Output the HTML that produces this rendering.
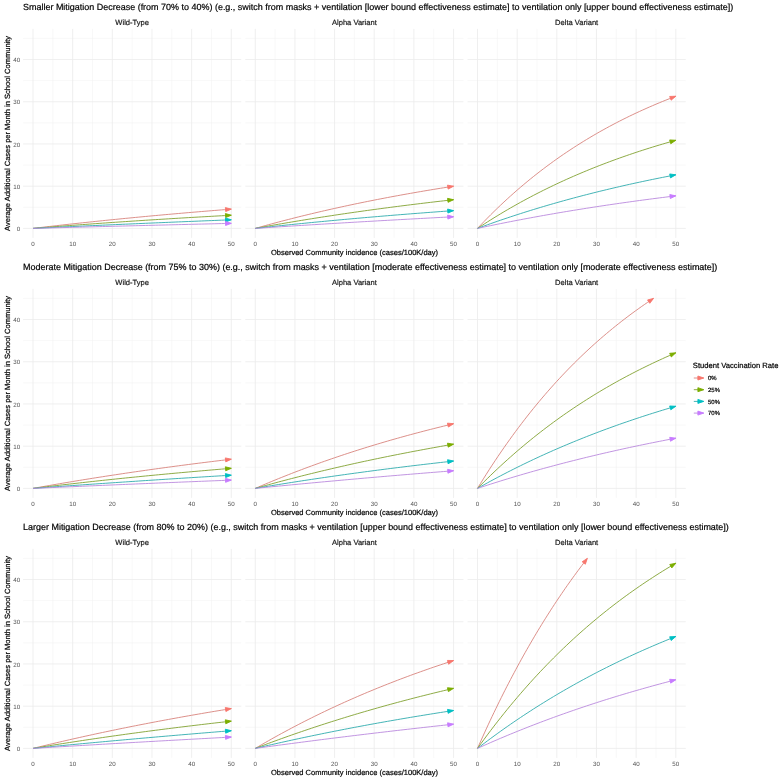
<!DOCTYPE html>
<html><head><meta charset="utf-8"><title>Mitigation chart</title>
<style>html,body{margin:0;padding:0;background:#fff;}svg{display:block;will-change:transform;filter:blur(0.3px);}text{font-family:"Liberation Sans",sans-serif;text-rendering:geometricPrecision;stroke:currentColor;stroke-width:0.2px;}</style>
</head><body>
<svg width="780" height="780" viewBox="0 0 780 780">
<rect width="780" height="780" fill="#fff"/>
<text x="23.0" y="10.45" font-size="8.97" fill="#000" color="#000">Smaller Mitigation Decrease (from 70% to 40%) (e.g., switch from masks + ventilation [lower bound effectiveness estimate] to ventilation only [upper bound effectiveness estimate])</text>
<text transform="translate(9.6,133.40) rotate(-90)" text-anchor="middle" font-size="7.52" fill="#000" color="#000">Average Additional Cases per Month in School Community</text>
<text x="354.5" y="254.50" text-anchor="middle" font-size="7.52" fill="#000" color="#000">Observed Community incidence (cases/100K/day)</text>
<text x="20.2" y="231.00" text-anchor="end" font-size="6.2" fill="#555555" style="stroke:none">0</text>
<text x="20.2" y="188.78" text-anchor="end" font-size="6.2" fill="#555555" style="stroke:none">10</text>
<text x="20.2" y="146.56" text-anchor="end" font-size="6.2" fill="#555555" style="stroke:none">20</text>
<text x="20.2" y="104.34" text-anchor="end" font-size="6.2" fill="#555555" style="stroke:none">30</text>
<text x="20.2" y="62.12" text-anchor="end" font-size="6.2" fill="#555555" style="stroke:none">40</text>
<text x="132.15" y="25.45" text-anchor="middle" font-size="7.55" fill="#1A1A1A" color="#1A1A1A">Wild-Type</text>
<path d="M52.83 28.91V237.90M92.49 28.91V237.90M132.15 28.91V237.90M171.81 28.91V237.90M211.47 28.91V237.90M23.09 207.29H241.22M23.09 165.07H241.22M23.09 122.85H241.22M23.09 80.63H241.22M23.09 38.41H241.22" stroke="#F3F3F3" stroke-width="0.55" fill="none"/>
<path d="M33.00 28.91V237.90M72.66 28.91V237.90M112.32 28.91V237.90M151.98 28.91V237.90M191.64 28.91V237.90M231.30 28.91V237.90M23.09 228.40H241.22M23.09 186.18H241.22M23.09 143.96H241.22M23.09 101.74H241.22M23.09 59.52H241.22" stroke="#EBEBEB" stroke-width="0.8" fill="none"/>
<text x="33.00" y="246.30" text-anchor="middle" font-size="6.2" fill="#555555" style="stroke:none">0</text>
<text x="72.66" y="246.30" text-anchor="middle" font-size="6.2" fill="#555555" style="stroke:none">10</text>
<text x="112.32" y="246.30" text-anchor="middle" font-size="6.2" fill="#555555" style="stroke:none">20</text>
<text x="151.98" y="246.30" text-anchor="middle" font-size="6.2" fill="#555555" style="stroke:none">30</text>
<text x="191.64" y="246.30" text-anchor="middle" font-size="6.2" fill="#555555" style="stroke:none">40</text>
<text x="231.30" y="246.30" text-anchor="middle" font-size="6.2" fill="#555555" style="stroke:none">50</text>
<path d="M33.00 228.40 L36.30 228.01 L39.61 227.62 L42.91 227.23 L46.22 226.85 L49.53 226.46 L52.83 226.08 L56.14 225.71 L59.44 225.33 L62.75 224.96 L66.05 224.59 L69.35 224.23 L72.66 223.87 L75.97 223.50 L79.27 223.15 L82.58 222.79 L85.88 222.44 L89.19 222.09 L92.49 221.74 L95.80 221.39 L99.10 221.05 L102.41 220.71 L105.71 220.37 L109.02 220.03 L112.32 219.70 L115.62 219.37 L118.93 219.04 L122.23 218.71 L125.54 218.39 L128.85 218.07 L132.15 217.75 L135.45 217.43 L138.76 217.11 L142.06 216.80 L145.37 216.49 L148.68 216.18 L151.98 215.88 L155.28 215.57 L158.59 215.27 L161.90 214.97 L165.20 214.67 L168.50 214.38 L171.81 214.08 L175.12 213.79 L178.42 213.50 L181.72 213.21 L185.03 212.93 L188.34 212.64 L191.64 212.36 L194.95 212.08 L198.25 211.81 L201.56 211.53 L204.86 211.26 L208.16 210.98 L211.47 210.72 L214.78 210.45 L218.08 210.18 L221.39 209.92 L224.69 209.66 L228.00 209.39 L231.30 209.14" stroke="#D8837D" stroke-width="0.9" fill="none"/>
<polygon points="231.30,209.14 225.67,211.58 225.36,207.59" fill="#F8766D" stroke="#F8766D" stroke-width="0.9" stroke-linejoin="miter"/>
<path d="M33.00 228.40 L36.30 228.13 L39.61 227.87 L42.91 227.61 L46.22 227.34 L49.53 227.09 L52.83 226.83 L56.14 226.57 L59.44 226.32 L62.75 226.06 L66.05 225.81 L69.35 225.57 L72.66 225.32 L75.97 225.07 L79.27 224.83 L82.58 224.59 L85.88 224.35 L89.19 224.11 L92.49 223.87 L95.80 223.63 L99.10 223.40 L102.41 223.17 L105.71 222.94 L109.02 222.71 L112.32 222.48 L115.62 222.25 L118.93 222.03 L122.23 221.80 L125.54 221.58 L128.85 221.36 L132.15 221.14 L135.45 220.93 L138.76 220.71 L142.06 220.50 L145.37 220.28 L148.68 220.07 L151.98 219.86 L155.28 219.65 L158.59 219.45 L161.90 219.24 L165.20 219.04 L168.50 218.83 L171.81 218.63 L175.12 218.43 L178.42 218.23 L181.72 218.03 L185.03 217.84 L188.34 217.64 L191.64 217.45 L194.95 217.26 L198.25 217.07 L201.56 216.88 L204.86 216.69 L208.16 216.50 L211.47 216.32 L214.78 216.13 L218.08 215.95 L221.39 215.77 L224.69 215.59 L228.00 215.41 L231.30 215.23" stroke="#81A231" stroke-width="0.9" fill="none"/>
<polygon points="231.30,215.23 225.62,217.54 225.40,213.54" fill="#7CAE00" stroke="#7CAE00" stroke-width="0.9" stroke-linejoin="miter"/>
<path d="M33.00 228.40 L36.30 228.24 L39.61 228.08 L42.91 227.93 L46.22 227.77 L49.53 227.62 L52.83 227.46 L56.14 227.30 L59.44 227.15 L62.75 227.00 L66.05 226.84 L69.35 226.69 L72.66 226.54 L75.97 226.39 L79.27 226.23 L82.58 226.08 L85.88 225.93 L89.19 225.78 L92.49 225.63 L95.80 225.49 L99.10 225.34 L102.41 225.19 L105.71 225.04 L109.02 224.90 L112.32 224.75 L115.62 224.60 L118.93 224.46 L122.23 224.31 L125.54 224.17 L128.85 224.02 L132.15 223.88 L135.45 223.74 L138.76 223.60 L142.06 223.45 L145.37 223.31 L148.68 223.17 L151.98 223.03 L155.28 222.89 L158.59 222.75 L161.90 222.61 L165.20 222.47 L168.50 222.33 L171.81 222.20 L175.12 222.06 L178.42 221.92 L181.72 221.79 L185.03 221.65 L188.34 221.51 L191.64 221.38 L194.95 221.24 L198.25 221.11 L201.56 220.98 L204.86 220.84 L208.16 220.71 L211.47 220.58 L214.78 220.45 L218.08 220.31 L221.39 220.18 L224.69 220.05 L228.00 219.92 L231.30 219.79" stroke="#2FABAE" stroke-width="0.9" fill="none"/>
<polygon points="231.30,219.79 225.58,222.02 225.43,218.02" fill="#00BFC4" stroke="#00BFC4" stroke-width="0.9" stroke-linejoin="miter"/>
<path d="M33.00 228.40 L36.30 228.31 L39.61 228.22 L42.91 228.13 L46.22 228.04 L49.53 227.96 L52.83 227.87 L56.14 227.78 L59.44 227.69 L62.75 227.60 L66.05 227.52 L69.35 227.43 L72.66 227.34 L75.97 227.25 L79.27 227.17 L82.58 227.08 L85.88 226.99 L89.19 226.91 L92.49 226.82 L95.80 226.73 L99.10 226.65 L102.41 226.56 L105.71 226.48 L109.02 226.39 L112.32 226.31 L115.62 226.22 L118.93 226.14 L122.23 226.05 L125.54 225.97 L128.85 225.88 L132.15 225.80 L135.45 225.71 L138.76 225.63 L142.06 225.55 L145.37 225.46 L148.68 225.38 L151.98 225.30 L155.28 225.21 L158.59 225.13 L161.90 225.05 L165.20 224.97 L168.50 224.88 L171.81 224.80 L175.12 224.72 L178.42 224.64 L181.72 224.55 L185.03 224.47 L188.34 224.39 L191.64 224.31 L194.95 224.23 L198.25 224.15 L201.56 224.07 L204.86 223.99 L208.16 223.91 L211.47 223.83 L214.78 223.75 L218.08 223.67 L221.39 223.59 L224.69 223.51 L228.00 223.43 L231.30 223.35" stroke="#BA89DE" stroke-width="0.9" fill="none"/>
<polygon points="231.30,223.35 225.55,225.49 225.45,221.49" fill="#C77CFF" stroke="#C77CFF" stroke-width="0.9" stroke-linejoin="miter"/>
<text x="354.40" y="25.45" text-anchor="middle" font-size="7.55" fill="#1A1A1A" color="#1A1A1A">Alpha Variant</text>
<path d="M275.08 28.91V237.90M314.74 28.91V237.90M354.40 28.91V237.90M394.06 28.91V237.90M433.72 28.91V237.90M245.34 207.29H463.47M245.34 165.07H463.47M245.34 122.85H463.47M245.34 80.63H463.47M245.34 38.41H463.47" stroke="#F3F3F3" stroke-width="0.55" fill="none"/>
<path d="M255.25 28.91V237.90M294.91 28.91V237.90M334.57 28.91V237.90M374.23 28.91V237.90M413.89 28.91V237.90M453.55 28.91V237.90M245.34 228.40H463.47M245.34 186.18H463.47M245.34 143.96H463.47M245.34 101.74H463.47M245.34 59.52H463.47" stroke="#EBEBEB" stroke-width="0.8" fill="none"/>
<text x="255.25" y="246.30" text-anchor="middle" font-size="6.2" fill="#555555" style="stroke:none">0</text>
<text x="294.91" y="246.30" text-anchor="middle" font-size="6.2" fill="#555555" style="stroke:none">10</text>
<text x="334.57" y="246.30" text-anchor="middle" font-size="6.2" fill="#555555" style="stroke:none">20</text>
<text x="374.23" y="246.30" text-anchor="middle" font-size="6.2" fill="#555555" style="stroke:none">30</text>
<text x="413.89" y="246.30" text-anchor="middle" font-size="6.2" fill="#555555" style="stroke:none">40</text>
<text x="453.55" y="246.30" text-anchor="middle" font-size="6.2" fill="#555555" style="stroke:none">50</text>
<path d="M255.25 228.40 L258.56 227.47 L261.86 226.55 L265.17 225.63 L268.47 224.73 L271.77 223.83 L275.08 222.95 L278.38 222.07 L281.69 221.20 L285.00 220.34 L288.30 219.49 L291.61 218.65 L294.91 217.81 L298.22 216.98 L301.52 216.17 L304.82 215.36 L308.13 214.56 L311.44 213.76 L314.74 212.98 L318.05 212.20 L321.35 211.43 L324.65 210.67 L327.96 209.91 L331.26 209.17 L334.57 208.43 L337.88 207.70 L341.18 206.97 L344.49 206.25 L347.79 205.54 L351.10 204.84 L354.40 204.14 L357.70 203.46 L361.01 202.77 L364.31 202.10 L367.62 201.43 L370.93 200.77 L374.23 200.11 L377.53 199.46 L380.84 198.82 L384.14 198.19 L387.45 197.56 L390.75 196.93 L394.06 196.32 L397.37 195.71 L400.67 195.10 L403.98 194.50 L407.28 193.91 L410.59 193.33 L413.89 192.75 L417.20 192.17 L420.50 191.60 L423.81 191.04 L427.11 190.48 L430.41 189.93 L433.72 189.38 L437.02 188.84 L440.33 188.31 L443.63 187.78 L446.94 187.25 L450.25 186.73 L453.55 186.22" stroke="#D8837D" stroke-width="0.9" fill="none"/>
<polygon points="453.55,186.22 448.13,189.08 447.51,185.13" fill="#F8766D" stroke="#F8766D" stroke-width="0.9" stroke-linejoin="miter"/>
<path d="M255.25 228.40 L258.56 227.80 L261.86 227.20 L265.17 226.60 L268.47 226.01 L271.77 225.43 L275.08 224.85 L278.38 224.27 L281.69 223.70 L285.00 223.13 L288.30 222.57 L291.61 222.02 L294.91 221.47 L298.22 220.92 L301.52 220.38 L304.82 219.84 L308.13 219.30 L311.44 218.77 L314.74 218.25 L318.05 217.73 L321.35 217.21 L324.65 216.70 L327.96 216.19 L331.26 215.69 L334.57 215.19 L337.88 214.69 L341.18 214.20 L344.49 213.71 L347.79 213.23 L351.10 212.75 L354.40 212.28 L357.70 211.81 L361.01 211.34 L364.31 210.87 L367.62 210.42 L370.93 209.96 L374.23 209.51 L377.53 209.06 L380.84 208.61 L384.14 208.17 L387.45 207.74 L390.75 207.30 L394.06 206.87 L397.37 206.45 L400.67 206.02 L403.98 205.60 L407.28 205.19 L410.59 204.77 L413.89 204.37 L417.20 203.96 L420.50 203.56 L423.81 203.16 L427.11 202.76 L430.41 202.37 L433.72 201.98 L437.02 201.59 L440.33 201.21 L443.63 200.83 L446.94 200.46 L450.25 200.08 L453.55 199.71" stroke="#81A231" stroke-width="0.9" fill="none"/>
<polygon points="453.55,199.71 448.01,202.34 447.56,198.37" fill="#7CAE00" stroke="#7CAE00" stroke-width="0.9" stroke-linejoin="miter"/>
<path d="M255.25 228.40 L258.56 228.04 L261.86 227.68 L265.17 227.32 L268.47 226.96 L271.77 226.61 L275.08 226.26 L278.38 225.91 L281.69 225.56 L285.00 225.22 L288.30 224.88 L291.61 224.54 L294.91 224.20 L298.22 223.87 L301.52 223.54 L304.82 223.21 L308.13 222.88 L311.44 222.56 L314.74 222.24 L318.05 221.92 L321.35 221.60 L324.65 221.29 L327.96 220.97 L331.26 220.66 L334.57 220.36 L337.88 220.05 L341.18 219.75 L344.49 219.44 L347.79 219.15 L351.10 218.85 L354.40 218.55 L357.70 218.26 L361.01 217.97 L364.31 217.68 L367.62 217.39 L370.93 217.11 L374.23 216.83 L377.53 216.55 L380.84 216.27 L384.14 215.99 L387.45 215.72 L390.75 215.45 L394.06 215.17 L397.37 214.91 L400.67 214.64 L403.98 214.38 L407.28 214.11 L410.59 213.85 L413.89 213.59 L417.20 213.34 L420.50 213.08 L423.81 212.83 L427.11 212.57 L430.41 212.33 L433.72 212.08 L437.02 211.83 L440.33 211.59 L443.63 211.34 L446.94 211.10 L450.25 210.86 L453.55 210.63" stroke="#2FABAE" stroke-width="0.9" fill="none"/>
<polygon points="453.55,210.63 447.91,213.04 447.62,209.05" fill="#00BFC4" stroke="#00BFC4" stroke-width="0.9" stroke-linejoin="miter"/>
<path d="M255.25 228.40 L258.56 228.18 L261.86 227.97 L265.17 227.75 L268.47 227.53 L271.77 227.32 L275.08 227.11 L278.38 226.89 L281.69 226.68 L285.00 226.47 L288.30 226.26 L291.61 226.05 L294.91 225.84 L298.22 225.63 L301.52 225.43 L304.82 225.22 L308.13 225.02 L311.44 224.81 L314.74 224.61 L318.05 224.41 L321.35 224.20 L324.65 224.00 L327.96 223.80 L331.26 223.60 L334.57 223.40 L337.88 223.21 L341.18 223.01 L344.49 222.81 L347.79 222.62 L351.10 222.42 L354.40 222.23 L357.70 222.04 L361.01 221.84 L364.31 221.65 L367.62 221.46 L370.93 221.27 L374.23 221.08 L377.53 220.89 L380.84 220.70 L384.14 220.52 L387.45 220.33 L390.75 220.15 L394.06 219.96 L397.37 219.78 L400.67 219.59 L403.98 219.41 L407.28 219.23 L410.59 219.05 L413.89 218.87 L417.20 218.69 L420.50 218.51 L423.81 218.33 L427.11 218.15 L430.41 217.97 L433.72 217.80 L437.02 217.62 L440.33 217.45 L443.63 217.27 L446.94 217.10 L450.25 216.93 L453.55 216.76" stroke="#BA89DE" stroke-width="0.9" fill="none"/>
<polygon points="453.55,216.76 447.86,219.05 447.65,215.06" fill="#C77CFF" stroke="#C77CFF" stroke-width="0.9" stroke-linejoin="miter"/>
<text x="576.65" y="25.45" text-anchor="middle" font-size="7.55" fill="#1A1A1A" color="#1A1A1A">Delta Variant</text>
<path d="M497.33 28.91V237.90M536.99 28.91V237.90M576.65 28.91V237.90M616.31 28.91V237.90M655.97 28.91V237.90M467.58 207.29H685.72M467.58 165.07H685.72M467.58 122.85H685.72M467.58 80.63H685.72M467.58 38.41H685.72" stroke="#F3F3F3" stroke-width="0.55" fill="none"/>
<path d="M477.50 28.91V237.90M517.16 28.91V237.90M556.82 28.91V237.90M596.48 28.91V237.90M636.14 28.91V237.90M675.80 28.91V237.90M467.58 228.40H685.72M467.58 186.18H685.72M467.58 143.96H685.72M467.58 101.74H685.72M467.58 59.52H685.72" stroke="#EBEBEB" stroke-width="0.8" fill="none"/>
<text x="477.50" y="246.30" text-anchor="middle" font-size="6.2" fill="#555555" style="stroke:none">0</text>
<text x="517.16" y="246.30" text-anchor="middle" font-size="6.2" fill="#555555" style="stroke:none">10</text>
<text x="556.82" y="246.30" text-anchor="middle" font-size="6.2" fill="#555555" style="stroke:none">20</text>
<text x="596.48" y="246.30" text-anchor="middle" font-size="6.2" fill="#555555" style="stroke:none">30</text>
<text x="636.14" y="246.30" text-anchor="middle" font-size="6.2" fill="#555555" style="stroke:none">40</text>
<text x="675.80" y="246.30" text-anchor="middle" font-size="6.2" fill="#555555" style="stroke:none">50</text>
<path d="M477.50 228.40 L480.81 224.90 L484.11 221.46 L487.42 218.08 L490.72 214.76 L494.02 211.49 L497.33 208.28 L500.63 205.13 L503.94 202.02 L507.25 198.97 L510.55 195.98 L513.86 193.03 L517.16 190.13 L520.47 187.29 L523.77 184.49 L527.08 181.74 L530.38 179.03 L533.68 176.37 L536.99 173.76 L540.29 171.19 L543.60 168.67 L546.90 166.19 L550.21 163.75 L553.51 161.35 L556.82 158.99 L560.12 156.67 L563.43 154.40 L566.74 152.16 L570.04 149.96 L573.35 147.79 L576.65 145.67 L579.96 143.58 L583.26 141.52 L586.57 139.50 L589.87 137.52 L593.17 135.57 L596.48 133.65 L599.78 131.76 L603.09 129.91 L606.39 128.09 L609.70 126.30 L613.00 124.54 L616.31 122.81 L619.62 121.10 L622.92 119.43 L626.23 117.79 L629.53 116.17 L632.84 114.58 L636.14 113.02 L639.45 111.49 L642.75 109.98 L646.06 108.50 L649.36 107.04 L652.66 105.61 L655.97 104.20 L659.27 102.82 L662.58 101.45 L665.88 100.12 L669.19 98.80 L672.50 97.51 L675.80 96.24" stroke="#D8837D" stroke-width="0.9" fill="none"/>
<polygon points="675.80,96.24 671.10,100.19 669.67,96.45" fill="#F8766D" stroke="#F8766D" stroke-width="0.9" stroke-linejoin="miter"/>
<path d="M477.50 228.40 L480.81 226.22 L484.11 224.07 L487.42 221.95 L490.72 219.86 L494.02 217.80 L497.33 215.77 L500.63 213.77 L503.94 211.79 L507.25 209.85 L510.55 207.93 L513.86 206.05 L517.16 204.19 L520.47 202.35 L523.77 200.54 L527.08 198.76 L530.38 197.01 L533.68 195.27 L536.99 193.57 L540.29 191.89 L543.60 190.23 L546.90 188.60 L550.21 186.99 L553.51 185.40 L556.82 183.84 L560.12 182.29 L563.43 180.78 L566.74 179.28 L570.04 177.80 L573.35 176.35 L576.65 174.91 L579.96 173.50 L583.26 172.11 L586.57 170.74 L589.87 169.38 L593.17 168.05 L596.48 166.73 L599.78 165.44 L603.09 164.16 L606.39 162.90 L609.70 161.66 L613.00 160.44 L616.31 159.24 L619.62 158.05 L622.92 156.88 L626.23 155.72 L629.53 154.59 L632.84 153.47 L636.14 152.36 L639.45 151.27 L642.75 150.20 L646.06 149.14 L649.36 148.10 L652.66 147.07 L655.97 146.06 L659.27 145.06 L662.58 144.08 L665.88 143.11 L669.19 142.15 L672.50 141.21 L675.80 140.28" stroke="#81A231" stroke-width="0.9" fill="none"/>
<polygon points="675.80,140.28 670.76,143.78 669.68,139.93" fill="#7CAE00" stroke="#7CAE00" stroke-width="0.9" stroke-linejoin="miter"/>
<path d="M477.50 228.40 L480.81 227.19 L484.11 225.98 L487.42 224.80 L490.72 223.62 L494.02 222.46 L497.33 221.31 L500.63 220.18 L503.94 219.05 L507.25 217.94 L510.55 216.84 L513.86 215.75 L517.16 214.68 L520.47 213.61 L523.77 212.56 L527.08 211.52 L530.38 210.49 L533.68 209.47 L536.99 208.47 L540.29 207.47 L543.60 206.49 L546.90 205.51 L550.21 204.55 L553.51 203.60 L556.82 202.66 L560.12 201.72 L563.43 200.80 L566.74 199.89 L570.04 198.99 L573.35 198.10 L576.65 197.22 L579.96 196.34 L583.26 195.48 L586.57 194.63 L589.87 193.79 L593.17 192.95 L596.48 192.13 L599.78 191.31 L603.09 190.50 L606.39 189.70 L609.70 188.91 L613.00 188.13 L616.31 187.36 L619.62 186.60 L622.92 185.84 L626.23 185.09 L629.53 184.35 L632.84 183.62 L636.14 182.90 L639.45 182.19 L642.75 181.48 L646.06 180.78 L649.36 180.09 L652.66 179.40 L655.97 178.73 L659.27 178.06 L662.58 177.40 L665.88 176.74 L669.19 176.09 L672.50 175.45 L675.80 174.82" stroke="#2FABAE" stroke-width="0.9" fill="none"/>
<polygon points="675.80,174.82 670.48,177.88 669.73,173.95" fill="#00BFC4" stroke="#00BFC4" stroke-width="0.9" stroke-linejoin="miter"/>
<path d="M477.50 228.40 L480.81 227.69 L484.11 226.99 L487.42 226.30 L490.72 225.61 L494.02 224.93 L497.33 224.26 L500.63 223.59 L503.94 222.93 L507.25 222.28 L510.55 221.63 L513.86 220.98 L517.16 220.35 L520.47 219.72 L523.77 219.09 L527.08 218.47 L530.38 217.86 L533.68 217.25 L536.99 216.65 L540.29 216.05 L543.60 215.46 L546.90 214.88 L550.21 214.30 L553.51 213.72 L556.82 213.15 L560.12 212.59 L563.43 212.03 L566.74 211.48 L570.04 210.93 L573.35 210.39 L576.65 209.85 L579.96 209.32 L583.26 208.79 L586.57 208.26 L589.87 207.75 L593.17 207.23 L596.48 206.72 L599.78 206.22 L603.09 205.72 L606.39 205.23 L609.70 204.74 L613.00 204.25 L616.31 203.77 L619.62 203.30 L622.92 202.83 L626.23 202.36 L629.53 201.90 L632.84 201.44 L636.14 200.98 L639.45 200.53 L642.75 200.09 L646.06 199.65 L649.36 199.21 L652.66 198.77 L655.97 198.35 L659.27 197.92 L662.58 197.50 L665.88 197.08 L669.19 196.67 L672.50 196.26 L675.80 195.85" stroke="#BA89DE" stroke-width="0.9" fill="none"/>
<polygon points="675.80,195.85 670.29,198.54 669.80,194.57" fill="#C77CFF" stroke="#C77CFF" stroke-width="0.9" stroke-linejoin="miter"/>
<text x="23.0" y="270.20" font-size="8.97" fill="#000" color="#000">Moderate Mitigation Decrease (from 75% to 30%) (e.g., switch from masks + ventilation [moderate effectiveness estimate] to ventilation only [moderate effectiveness estimate])</text>
<text transform="translate(9.6,393.40) rotate(-90)" text-anchor="middle" font-size="7.52" fill="#000" color="#000">Average Additional Cases per Month in School Community</text>
<text x="354.5" y="514.50" text-anchor="middle" font-size="7.52" fill="#000" color="#000">Observed Community incidence (cases/100K/day)</text>
<text x="20.2" y="491.00" text-anchor="end" font-size="6.2" fill="#555555" style="stroke:none">0</text>
<text x="20.2" y="448.78" text-anchor="end" font-size="6.2" fill="#555555" style="stroke:none">10</text>
<text x="20.2" y="406.56" text-anchor="end" font-size="6.2" fill="#555555" style="stroke:none">20</text>
<text x="20.2" y="364.34" text-anchor="end" font-size="6.2" fill="#555555" style="stroke:none">30</text>
<text x="20.2" y="322.12" text-anchor="end" font-size="6.2" fill="#555555" style="stroke:none">40</text>
<text x="132.15" y="285.45" text-anchor="middle" font-size="7.55" fill="#1A1A1A" color="#1A1A1A">Wild-Type</text>
<path d="M52.83 288.91V497.90M92.49 288.91V497.90M132.15 288.91V497.90M171.81 288.91V497.90M211.47 288.91V497.90M23.09 467.29H241.22M23.09 425.07H241.22M23.09 382.85H241.22M23.09 340.63H241.22M23.09 298.41H241.22" stroke="#F3F3F3" stroke-width="0.55" fill="none"/>
<path d="M33.00 288.91V497.90M72.66 288.91V497.90M112.32 288.91V497.90M151.98 288.91V497.90M191.64 288.91V497.90M231.30 288.91V497.90M23.09 488.40H241.22M23.09 446.18H241.22M23.09 403.96H241.22M23.09 361.74H241.22M23.09 319.52H241.22" stroke="#EBEBEB" stroke-width="0.8" fill="none"/>
<text x="33.00" y="506.30" text-anchor="middle" font-size="6.2" fill="#555555" style="stroke:none">0</text>
<text x="72.66" y="506.30" text-anchor="middle" font-size="6.2" fill="#555555" style="stroke:none">10</text>
<text x="112.32" y="506.30" text-anchor="middle" font-size="6.2" fill="#555555" style="stroke:none">20</text>
<text x="151.98" y="506.30" text-anchor="middle" font-size="6.2" fill="#555555" style="stroke:none">30</text>
<text x="191.64" y="506.30" text-anchor="middle" font-size="6.2" fill="#555555" style="stroke:none">40</text>
<text x="231.30" y="506.30" text-anchor="middle" font-size="6.2" fill="#555555" style="stroke:none">50</text>
<path d="M33.00 488.40 L36.30 487.80 L39.61 487.21 L42.91 486.63 L46.22 486.04 L49.53 485.47 L52.83 484.89 L56.14 484.32 L59.44 483.75 L62.75 483.19 L66.05 482.63 L69.35 482.08 L72.66 481.53 L75.97 480.98 L79.27 480.44 L82.58 479.90 L85.88 479.37 L89.19 478.83 L92.49 478.31 L95.80 477.78 L99.10 477.26 L102.41 476.75 L105.71 476.23 L109.02 475.72 L112.32 475.22 L115.62 474.72 L118.93 474.22 L122.23 473.72 L125.54 473.23 L128.85 472.74 L132.15 472.26 L135.45 471.78 L138.76 471.30 L142.06 470.83 L145.37 470.36 L148.68 469.89 L151.98 469.42 L155.28 468.96 L158.59 468.51 L161.90 468.05 L165.20 467.60 L168.50 467.15 L171.81 466.71 L175.12 466.26 L178.42 465.83 L181.72 465.39 L185.03 464.96 L188.34 464.53 L191.64 464.10 L194.95 463.68 L198.25 463.26 L201.56 462.84 L204.86 462.43 L208.16 462.01 L211.47 461.61 L214.78 461.20 L218.08 460.80 L221.39 460.40 L224.69 460.00 L228.00 459.61 L231.30 459.21" stroke="#D8837D" stroke-width="0.9" fill="none"/>
<polygon points="231.30,459.21 225.78,461.88 225.30,457.91" fill="#F8766D" stroke="#F8766D" stroke-width="0.9" stroke-linejoin="miter"/>
<path d="M33.00 488.40 L36.30 487.99 L39.61 487.59 L42.91 487.19 L46.22 486.79 L49.53 486.40 L52.83 486.00 L56.14 485.61 L59.44 485.23 L62.75 484.84 L66.05 484.46 L69.35 484.08 L72.66 483.70 L75.97 483.33 L79.27 482.96 L82.58 482.59 L85.88 482.22 L89.19 481.85 L92.49 481.49 L95.80 481.13 L99.10 480.78 L102.41 480.42 L105.71 480.07 L109.02 479.72 L112.32 479.37 L115.62 479.03 L118.93 478.68 L122.23 478.34 L125.54 478.01 L128.85 477.67 L132.15 477.34 L135.45 477.01 L138.76 476.68 L142.06 476.35 L145.37 476.03 L148.68 475.70 L151.98 475.38 L155.28 475.07 L158.59 474.75 L161.90 474.44 L165.20 474.13 L168.50 473.82 L171.81 473.51 L175.12 473.20 L178.42 472.90 L181.72 472.60 L185.03 472.30 L188.34 472.00 L191.64 471.71 L194.95 471.42 L198.25 471.13 L201.56 470.84 L204.86 470.55 L208.16 470.26 L211.47 469.98 L214.78 469.70 L218.08 469.42 L221.39 469.14 L224.69 468.87 L228.00 468.59 L231.30 468.32" stroke="#81A231" stroke-width="0.9" fill="none"/>
<polygon points="231.30,468.32 225.68,470.79 225.36,466.80" fill="#7CAE00" stroke="#7CAE00" stroke-width="0.9" stroke-linejoin="miter"/>
<path d="M33.00 488.40 L36.30 488.16 L39.61 487.92 L42.91 487.67 L46.22 487.43 L49.53 487.20 L52.83 486.96 L56.14 486.72 L59.44 486.48 L62.75 486.25 L66.05 486.01 L69.35 485.78 L72.66 485.54 L75.97 485.31 L79.27 485.08 L82.58 484.85 L85.88 484.62 L89.19 484.39 L92.49 484.16 L95.80 483.93 L99.10 483.70 L102.41 483.47 L105.71 483.25 L109.02 483.02 L112.32 482.80 L115.62 482.57 L118.93 482.35 L122.23 482.13 L125.54 481.91 L128.85 481.69 L132.15 481.47 L135.45 481.25 L138.76 481.03 L142.06 480.81 L145.37 480.59 L148.68 480.38 L151.98 480.16 L155.28 479.94 L158.59 479.73 L161.90 479.52 L165.20 479.30 L168.50 479.09 L171.81 478.88 L175.12 478.67 L178.42 478.46 L181.72 478.25 L185.03 478.04 L188.34 477.83 L191.64 477.63 L194.95 477.42 L198.25 477.21 L201.56 477.01 L204.86 476.80 L208.16 476.60 L211.47 476.40 L214.78 476.19 L218.08 475.99 L221.39 475.79 L224.69 475.59 L228.00 475.39 L231.30 475.19" stroke="#2FABAE" stroke-width="0.9" fill="none"/>
<polygon points="231.30,475.19 225.63,477.54 225.39,473.54" fill="#00BFC4" stroke="#00BFC4" stroke-width="0.9" stroke-linejoin="miter"/>
<path d="M33.00 488.40 L36.30 488.25 L39.61 488.11 L42.91 487.96 L46.22 487.82 L49.53 487.67 L52.83 487.53 L56.14 487.38 L59.44 487.24 L62.75 487.09 L66.05 486.95 L69.35 486.80 L72.66 486.66 L75.97 486.52 L79.27 486.38 L82.58 486.23 L85.88 486.09 L89.19 485.95 L92.49 485.81 L95.80 485.67 L99.10 485.52 L102.41 485.38 L105.71 485.24 L109.02 485.10 L112.32 484.96 L115.62 484.82 L118.93 484.68 L122.23 484.55 L125.54 484.41 L128.85 484.27 L132.15 484.13 L135.45 483.99 L138.76 483.85 L142.06 483.72 L145.37 483.58 L148.68 483.44 L151.98 483.31 L155.28 483.17 L158.59 483.03 L161.90 482.90 L165.20 482.76 L168.50 482.63 L171.81 482.49 L175.12 482.36 L178.42 482.22 L181.72 482.09 L185.03 481.95 L188.34 481.82 L191.64 481.69 L194.95 481.55 L198.25 481.42 L201.56 481.29 L204.86 481.16 L208.16 481.02 L211.47 480.89 L214.78 480.76 L218.08 480.63 L221.39 480.50 L224.69 480.37 L228.00 480.24 L231.30 480.11" stroke="#BA89DE" stroke-width="0.9" fill="none"/>
<polygon points="231.30,480.11 225.58,482.33 225.43,478.34" fill="#C77CFF" stroke="#C77CFF" stroke-width="0.9" stroke-linejoin="miter"/>
<text x="354.40" y="285.45" text-anchor="middle" font-size="7.55" fill="#1A1A1A" color="#1A1A1A">Alpha Variant</text>
<path d="M275.08 288.91V497.90M314.74 288.91V497.90M354.40 288.91V497.90M394.06 288.91V497.90M433.72 288.91V497.90M245.34 467.29H463.47M245.34 425.07H463.47M245.34 382.85H463.47M245.34 340.63H463.47M245.34 298.41H463.47" stroke="#F3F3F3" stroke-width="0.55" fill="none"/>
<path d="M255.25 288.91V497.90M294.91 288.91V497.90M334.57 288.91V497.90M374.23 288.91V497.90M413.89 288.91V497.90M453.55 288.91V497.90M245.34 488.40H463.47M245.34 446.18H463.47M245.34 403.96H463.47M245.34 361.74H463.47M245.34 319.52H463.47" stroke="#EBEBEB" stroke-width="0.8" fill="none"/>
<text x="255.25" y="506.30" text-anchor="middle" font-size="6.2" fill="#555555" style="stroke:none">0</text>
<text x="294.91" y="506.30" text-anchor="middle" font-size="6.2" fill="#555555" style="stroke:none">10</text>
<text x="334.57" y="506.30" text-anchor="middle" font-size="6.2" fill="#555555" style="stroke:none">20</text>
<text x="374.23" y="506.30" text-anchor="middle" font-size="6.2" fill="#555555" style="stroke:none">30</text>
<text x="413.89" y="506.30" text-anchor="middle" font-size="6.2" fill="#555555" style="stroke:none">40</text>
<text x="453.55" y="506.30" text-anchor="middle" font-size="6.2" fill="#555555" style="stroke:none">50</text>
<path d="M255.25 488.40 L258.56 486.97 L261.86 485.56 L265.17 484.16 L268.47 482.77 L271.77 481.40 L275.08 480.04 L278.38 478.69 L281.69 477.36 L285.00 476.05 L288.30 474.74 L291.61 473.45 L294.91 472.17 L298.22 470.90 L301.52 469.65 L304.82 468.41 L308.13 467.18 L311.44 465.97 L314.74 464.76 L318.05 463.57 L321.35 462.39 L324.65 461.22 L327.96 460.07 L331.26 458.92 L334.57 457.79 L337.88 456.67 L341.18 455.56 L344.49 454.46 L347.79 453.37 L351.10 452.29 L354.40 451.22 L357.70 450.17 L361.01 449.12 L364.31 448.09 L367.62 447.06 L370.93 446.05 L374.23 445.04 L377.53 444.05 L380.84 443.07 L384.14 442.09 L387.45 441.13 L390.75 440.17 L394.06 439.23 L397.37 438.29 L400.67 437.36 L403.98 436.45 L407.28 435.54 L410.59 434.64 L413.89 433.75 L417.20 432.87 L420.50 432.00 L423.81 431.13 L427.11 430.28 L430.41 429.43 L433.72 428.60 L437.02 427.77 L440.33 426.95 L443.63 426.13 L446.94 425.33 L450.25 424.53 L453.55 423.74" stroke="#D8837D" stroke-width="0.9" fill="none"/>
<polygon points="453.55,423.74 448.37,427.04 447.44,423.14" fill="#F8766D" stroke="#F8766D" stroke-width="0.9" stroke-linejoin="miter"/>
<path d="M255.25 488.40 L258.56 487.47 L261.86 486.54 L265.17 485.63 L268.47 484.72 L271.77 483.81 L275.08 482.92 L278.38 482.03 L281.69 481.15 L285.00 480.28 L288.30 479.42 L291.61 478.56 L294.91 477.71 L298.22 476.86 L301.52 476.03 L304.82 475.20 L308.13 474.37 L311.44 473.56 L314.74 472.75 L318.05 471.95 L321.35 471.15 L324.65 470.36 L327.96 469.58 L331.26 468.80 L334.57 468.03 L337.88 467.27 L341.18 466.51 L344.49 465.76 L347.79 465.01 L351.10 464.27 L354.40 463.54 L357.70 462.81 L361.01 462.09 L364.31 461.38 L367.62 460.67 L370.93 459.97 L374.23 459.27 L377.53 458.58 L380.84 457.89 L384.14 457.21 L387.45 456.54 L390.75 455.87 L394.06 455.21 L397.37 454.55 L400.67 453.90 L403.98 453.25 L407.28 452.61 L410.59 451.97 L413.89 451.34 L417.20 450.72 L420.50 450.10 L423.81 449.48 L427.11 448.87 L430.41 448.27 L433.72 447.67 L437.02 447.07 L440.33 446.48 L443.63 445.89 L446.94 445.31 L450.25 444.74 L453.55 444.17" stroke="#81A231" stroke-width="0.9" fill="none"/>
<polygon points="453.55,444.17 448.18,447.13 447.49,443.18" fill="#7CAE00" stroke="#7CAE00" stroke-width="0.9" stroke-linejoin="miter"/>
<path d="M255.25 488.40 L258.56 487.84 L261.86 487.28 L265.17 486.73 L268.47 486.19 L271.77 485.64 L275.08 485.10 L278.38 484.57 L281.69 484.04 L285.00 483.51 L288.30 482.98 L291.61 482.46 L294.91 481.95 L298.22 481.43 L301.52 480.92 L304.82 480.42 L308.13 479.92 L311.44 479.42 L314.74 478.92 L318.05 478.43 L321.35 477.94 L324.65 477.46 L327.96 476.98 L331.26 476.50 L334.57 476.03 L337.88 475.56 L341.18 475.09 L344.49 474.63 L347.79 474.17 L351.10 473.71 L354.40 473.26 L357.70 472.80 L361.01 472.36 L364.31 471.91 L367.62 471.47 L370.93 471.04 L374.23 470.60 L377.53 470.17 L380.84 469.74 L384.14 469.32 L387.45 468.89 L390.75 468.47 L394.06 468.06 L397.37 467.65 L400.67 467.24 L403.98 466.83 L407.28 466.42 L410.59 466.02 L413.89 465.62 L417.20 465.23 L420.50 464.84 L423.81 464.45 L427.11 464.06 L430.41 463.68 L433.72 463.29 L437.02 462.92 L440.33 462.54 L443.63 462.17 L446.94 461.80 L450.25 461.43 L453.55 461.06" stroke="#2FABAE" stroke-width="0.9" fill="none"/>
<polygon points="453.55,461.06 448.00,463.69 447.57,459.71" fill="#00BFC4" stroke="#00BFC4" stroke-width="0.9" stroke-linejoin="miter"/>
<path d="M255.25 488.40 L258.56 488.07 L261.86 487.74 L265.17 487.41 L268.47 487.09 L271.77 486.76 L275.08 486.44 L278.38 486.12 L281.69 485.80 L285.00 485.48 L288.30 485.16 L291.61 484.84 L294.91 484.52 L298.22 484.21 L301.52 483.90 L304.82 483.58 L308.13 483.27 L311.44 482.96 L314.74 482.65 L318.05 482.35 L321.35 482.04 L324.65 481.74 L327.96 481.43 L331.26 481.13 L334.57 480.83 L337.88 480.53 L341.18 480.23 L344.49 479.93 L347.79 479.64 L351.10 479.34 L354.40 479.05 L357.70 478.76 L361.01 478.46 L364.31 478.17 L367.62 477.88 L370.93 477.60 L374.23 477.31 L377.53 477.02 L380.84 476.74 L384.14 476.46 L387.45 476.17 L390.75 475.89 L394.06 475.61 L397.37 475.33 L400.67 475.05 L403.98 474.78 L407.28 474.50 L410.59 474.23 L413.89 473.95 L417.20 473.68 L420.50 473.41 L423.81 473.14 L427.11 472.87 L430.41 472.60 L433.72 472.34 L437.02 472.07 L440.33 471.80 L443.63 471.54 L446.94 471.28 L450.25 471.02 L453.55 470.76" stroke="#BA89DE" stroke-width="0.9" fill="none"/>
<polygon points="453.55,470.76 447.93,473.21 447.61,469.22" fill="#C77CFF" stroke="#C77CFF" stroke-width="0.9" stroke-linejoin="miter"/>
<text x="576.65" y="285.45" text-anchor="middle" font-size="7.55" fill="#1A1A1A" color="#1A1A1A">Delta Variant</text>
<path d="M497.33 288.91V497.90M536.99 288.91V497.90M576.65 288.91V497.90M616.31 288.91V497.90M655.97 288.91V497.90M467.58 467.29H685.72M467.58 425.07H685.72M467.58 382.85H685.72M467.58 340.63H685.72M467.58 298.41H685.72" stroke="#F3F3F3" stroke-width="0.55" fill="none"/>
<path d="M477.50 288.91V497.90M517.16 288.91V497.90M556.82 288.91V497.90M596.48 288.91V497.90M636.14 288.91V497.90M675.80 288.91V497.90M467.58 488.40H685.72M467.58 446.18H685.72M467.58 403.96H685.72M467.58 361.74H685.72M467.58 319.52H685.72" stroke="#EBEBEB" stroke-width="0.8" fill="none"/>
<text x="477.50" y="506.30" text-anchor="middle" font-size="6.2" fill="#555555" style="stroke:none">0</text>
<text x="517.16" y="506.30" text-anchor="middle" font-size="6.2" fill="#555555" style="stroke:none">10</text>
<text x="556.82" y="506.30" text-anchor="middle" font-size="6.2" fill="#555555" style="stroke:none">20</text>
<text x="596.48" y="506.30" text-anchor="middle" font-size="6.2" fill="#555555" style="stroke:none">30</text>
<text x="636.14" y="506.30" text-anchor="middle" font-size="6.2" fill="#555555" style="stroke:none">40</text>
<text x="675.80" y="506.30" text-anchor="middle" font-size="6.2" fill="#555555" style="stroke:none">50</text>
<path d="M477.50 488.40 L480.43 483.60 L483.37 478.88 L486.30 474.23 L489.23 469.65 L492.17 465.14 L495.10 460.70 L498.03 456.32 L500.97 452.01 L503.90 447.76 L506.83 443.58 L509.77 439.47 L512.70 435.41 L515.63 431.42 L518.57 427.49 L521.50 423.61 L524.43 419.80 L527.37 416.04 L530.30 412.34 L533.23 408.69 L536.17 405.10 L539.10 401.57 L542.03 398.09 L544.97 394.66 L547.90 391.28 L550.83 387.95 L553.77 384.68 L556.70 381.45 L559.63 378.27 L562.57 375.14 L565.50 372.06 L568.43 369.03 L571.37 366.04 L574.30 363.09 L577.23 360.19 L580.17 357.34 L583.10 354.52 L586.03 351.75 L588.97 349.02 L591.90 346.34 L594.83 343.69 L597.77 341.08 L600.70 338.52 L603.63 335.99 L606.56 333.50 L609.50 331.05 L612.43 328.63 L615.36 326.25 L618.30 323.91 L621.23 321.60 L624.16 319.33 L627.10 317.09 L630.03 314.89 L632.96 312.71 L635.90 310.58 L638.83 308.47 L641.76 306.40 L644.70 304.35 L647.63 302.34 L650.56 300.36 L653.50 298.41" stroke="#D8837D" stroke-width="0.9" fill="none"/>
<polygon points="653.50,298.41 649.78,303.29 647.56,299.96" fill="#F8766D" stroke="#F8766D" stroke-width="0.9" stroke-linejoin="miter"/>
<path d="M477.50 488.40 L480.81 485.04 L484.11 481.73 L487.42 478.47 L490.72 475.25 L494.02 472.09 L497.33 468.96 L500.63 465.88 L503.94 462.85 L507.25 459.86 L510.55 456.91 L513.86 454.01 L517.16 451.14 L520.47 448.32 L523.77 445.54 L527.08 442.80 L530.38 440.10 L533.68 437.43 L536.99 434.81 L540.29 432.22 L543.60 429.67 L546.90 427.16 L550.21 424.68 L553.51 422.24 L556.82 419.83 L560.12 417.46 L563.43 415.12 L566.74 412.82 L570.04 410.55 L573.35 408.31 L576.65 406.11 L579.96 403.93 L583.26 401.79 L586.57 399.68 L589.87 397.60 L593.17 395.54 L596.48 393.52 L599.78 391.53 L603.09 389.56 L606.39 387.63 L609.70 385.72 L613.00 383.84 L616.31 381.98 L619.62 380.16 L622.92 378.36 L626.23 376.58 L629.53 374.83 L632.84 373.11 L636.14 371.41 L639.45 369.73 L642.75 368.08 L646.06 366.46 L649.36 364.85 L652.66 363.27 L655.97 361.71 L659.27 360.18 L662.58 358.66 L665.88 357.17 L669.19 355.70 L672.50 354.25 L675.80 352.83" stroke="#81A231" stroke-width="0.9" fill="none"/>
<polygon points="675.80,352.83 671.27,356.96 669.68,353.29" fill="#7CAE00" stroke="#7CAE00" stroke-width="0.9" stroke-linejoin="miter"/>
<path d="M477.50 488.40 L480.81 486.54 L484.11 484.70 L487.42 482.88 L490.72 481.07 L494.02 479.29 L497.33 477.53 L500.63 475.79 L503.94 474.07 L507.25 472.36 L510.55 470.67 L513.86 469.01 L517.16 467.36 L520.47 465.73 L523.77 464.11 L527.08 462.52 L530.38 460.94 L533.68 459.38 L536.99 457.84 L540.29 456.31 L543.60 454.80 L546.90 453.31 L550.21 451.83 L553.51 450.37 L556.82 448.93 L560.12 447.50 L563.43 446.08 L566.74 444.69 L570.04 443.30 L573.35 441.94 L576.65 440.59 L579.96 439.25 L583.26 437.93 L586.57 436.62 L589.87 435.32 L593.17 434.05 L596.48 432.78 L599.78 431.53 L603.09 430.29 L606.39 429.07 L609.70 427.86 L613.00 426.66 L616.31 425.47 L619.62 424.30 L622.92 423.14 L626.23 422.00 L629.53 420.86 L632.84 419.74 L636.14 418.64 L639.45 417.54 L642.75 416.45 L646.06 415.38 L649.36 414.32 L652.66 413.27 L655.97 412.24 L659.27 411.21 L662.58 410.19 L665.88 409.19 L669.19 408.20 L672.50 407.22 L675.80 406.25" stroke="#2FABAE" stroke-width="0.9" fill="none"/>
<polygon points="675.80,406.25 670.80,409.80 669.67,405.96" fill="#00BFC4" stroke="#00BFC4" stroke-width="0.9" stroke-linejoin="miter"/>
<path d="M477.50 488.40 L480.81 487.31 L484.11 486.23 L487.42 485.16 L490.72 484.10 L494.02 483.05 L497.33 482.01 L500.63 480.98 L503.94 479.96 L507.25 478.95 L510.55 477.95 L513.86 476.96 L517.16 475.98 L520.47 475.01 L523.77 474.04 L527.08 473.09 L530.38 472.14 L533.68 471.20 L536.99 470.27 L540.29 469.35 L543.60 468.44 L546.90 467.54 L550.21 466.65 L553.51 465.76 L556.82 464.88 L560.12 464.01 L563.43 463.15 L566.74 462.30 L570.04 461.45 L573.35 460.62 L576.65 459.79 L579.96 458.96 L583.26 458.15 L586.57 457.34 L589.87 456.54 L593.17 455.75 L596.48 454.97 L599.78 454.19 L603.09 453.42 L606.39 452.66 L609.70 451.90 L613.00 451.16 L616.31 450.42 L619.62 449.68 L622.92 448.95 L626.23 448.23 L629.53 447.52 L632.84 446.81 L636.14 446.11 L639.45 445.42 L642.75 444.73 L646.06 444.05 L649.36 443.37 L652.66 442.71 L655.97 442.04 L659.27 441.39 L662.58 440.74 L665.88 440.09 L669.19 439.46 L672.50 438.83 L675.80 438.20" stroke="#BA89DE" stroke-width="0.9" fill="none"/>
<polygon points="675.80,438.20 670.47,441.24 669.73,437.31" fill="#C77CFF" stroke="#C77CFF" stroke-width="0.9" stroke-linejoin="miter"/>
<text x="23.0" y="529.95" font-size="8.97" fill="#000" color="#000">Larger Mitigation Decrease (from 80% to 20%) (e.g., switch from masks + ventilation [upper bound effectiveness estimate] to ventilation only [lower bound effectiveness estimate])</text>
<text transform="translate(9.6,653.40) rotate(-90)" text-anchor="middle" font-size="7.52" fill="#000" color="#000">Average Additional Cases per Month in School Community</text>
<text x="354.5" y="774.50" text-anchor="middle" font-size="7.52" fill="#000" color="#000">Observed Community incidence (cases/100K/day)</text>
<text x="20.2" y="751.00" text-anchor="end" font-size="6.2" fill="#555555" style="stroke:none">0</text>
<text x="20.2" y="708.78" text-anchor="end" font-size="6.2" fill="#555555" style="stroke:none">10</text>
<text x="20.2" y="666.56" text-anchor="end" font-size="6.2" fill="#555555" style="stroke:none">20</text>
<text x="20.2" y="624.34" text-anchor="end" font-size="6.2" fill="#555555" style="stroke:none">30</text>
<text x="20.2" y="582.12" text-anchor="end" font-size="6.2" fill="#555555" style="stroke:none">40</text>
<text x="132.15" y="545.45" text-anchor="middle" font-size="7.55" fill="#1A1A1A" color="#1A1A1A">Wild-Type</text>
<path d="M52.83 548.91V757.90M92.49 548.91V757.90M132.15 548.91V757.90M171.81 548.91V757.90M211.47 548.91V757.90M23.09 727.29H241.22M23.09 685.07H241.22M23.09 642.85H241.22M23.09 600.63H241.22M23.09 558.41H241.22" stroke="#F3F3F3" stroke-width="0.55" fill="none"/>
<path d="M33.00 548.91V757.90M72.66 548.91V757.90M112.32 548.91V757.90M151.98 548.91V757.90M191.64 548.91V757.90M231.30 548.91V757.90M23.09 748.40H241.22M23.09 706.18H241.22M23.09 663.96H241.22M23.09 621.74H241.22M23.09 579.52H241.22" stroke="#EBEBEB" stroke-width="0.8" fill="none"/>
<text x="33.00" y="766.30" text-anchor="middle" font-size="6.2" fill="#555555" style="stroke:none">0</text>
<text x="72.66" y="766.30" text-anchor="middle" font-size="6.2" fill="#555555" style="stroke:none">10</text>
<text x="112.32" y="766.30" text-anchor="middle" font-size="6.2" fill="#555555" style="stroke:none">20</text>
<text x="151.98" y="766.30" text-anchor="middle" font-size="6.2" fill="#555555" style="stroke:none">30</text>
<text x="191.64" y="766.30" text-anchor="middle" font-size="6.2" fill="#555555" style="stroke:none">40</text>
<text x="231.30" y="766.30" text-anchor="middle" font-size="6.2" fill="#555555" style="stroke:none">50</text>
<path d="M33.00 748.40 L36.30 747.59 L39.61 746.78 L42.91 745.98 L46.22 745.19 L49.53 744.40 L52.83 743.62 L56.14 742.84 L59.44 742.07 L62.75 741.30 L66.05 740.54 L69.35 739.78 L72.66 739.03 L75.97 738.29 L79.27 737.55 L82.58 736.81 L85.88 736.08 L89.19 735.36 L92.49 734.64 L95.80 733.92 L99.10 733.21 L102.41 732.51 L105.71 731.81 L109.02 731.12 L112.32 730.43 L115.62 729.74 L118.93 729.06 L122.23 728.39 L125.54 727.72 L128.85 727.05 L132.15 726.39 L135.45 725.74 L138.76 725.08 L142.06 724.44 L145.37 723.80 L148.68 723.16 L151.98 722.53 L155.28 721.90 L158.59 721.27 L161.90 720.65 L165.20 720.04 L168.50 719.43 L171.81 718.82 L175.12 718.22 L178.42 717.62 L181.72 717.02 L185.03 716.43 L188.34 715.85 L191.64 715.27 L194.95 714.69 L198.25 714.12 L201.56 713.55 L204.86 712.98 L208.16 712.42 L211.47 711.86 L214.78 711.31 L218.08 710.76 L221.39 710.22 L224.69 709.67 L228.00 709.14 L231.30 708.60" stroke="#D8837D" stroke-width="0.9" fill="none"/>
<polygon points="231.30,708.60 225.89,711.50 225.26,707.55" fill="#F8766D" stroke="#F8766D" stroke-width="0.9" stroke-linejoin="miter"/>
<path d="M33.00 748.40 L36.30 747.85 L39.61 747.30 L42.91 746.76 L46.22 746.22 L49.53 745.68 L52.83 745.15 L56.14 744.62 L59.44 744.09 L62.75 743.57 L66.05 743.05 L69.35 742.54 L72.66 742.02 L75.97 741.52 L79.27 741.01 L82.58 740.51 L85.88 740.01 L89.19 739.52 L92.49 739.03 L95.80 738.54 L99.10 738.05 L102.41 737.57 L105.71 737.10 L109.02 736.62 L112.32 736.15 L115.62 735.68 L118.93 735.22 L122.23 734.75 L125.54 734.30 L128.85 733.84 L132.15 733.39 L135.45 732.94 L138.76 732.49 L142.06 732.05 L145.37 731.61 L148.68 731.17 L151.98 730.74 L155.28 730.31 L158.59 729.88 L161.90 729.45 L165.20 729.03 L168.50 728.61 L171.81 728.19 L175.12 727.78 L178.42 727.37 L181.72 726.96 L185.03 726.55 L188.34 726.15 L191.64 725.75 L194.95 725.35 L198.25 724.96 L201.56 724.56 L204.86 724.18 L208.16 723.79 L211.47 723.40 L214.78 723.02 L218.08 722.64 L221.39 722.27 L224.69 721.89 L228.00 721.52 L231.30 721.15" stroke="#81A231" stroke-width="0.9" fill="none"/>
<polygon points="231.30,721.15 225.76,723.78 225.31,719.81" fill="#7CAE00" stroke="#7CAE00" stroke-width="0.9" stroke-linejoin="miter"/>
<path d="M33.00 748.40 L36.30 748.08 L39.61 747.75 L42.91 747.43 L46.22 747.11 L49.53 746.79 L52.83 746.47 L56.14 746.15 L59.44 745.83 L62.75 745.52 L66.05 745.20 L69.35 744.89 L72.66 744.57 L75.97 744.26 L79.27 743.95 L82.58 743.64 L85.88 743.33 L89.19 743.02 L92.49 742.72 L95.80 742.41 L99.10 742.11 L102.41 741.80 L105.71 741.50 L109.02 741.20 L112.32 740.90 L115.62 740.60 L118.93 740.30 L122.23 740.00 L125.54 739.70 L128.85 739.41 L132.15 739.11 L135.45 738.82 L138.76 738.53 L142.06 738.23 L145.37 737.94 L148.68 737.65 L151.98 737.36 L155.28 737.08 L158.59 736.79 L161.90 736.50 L165.20 736.22 L168.50 735.93 L171.81 735.65 L175.12 735.37 L178.42 735.09 L181.72 734.81 L185.03 734.53 L188.34 734.25 L191.64 733.97 L194.95 733.69 L198.25 733.42 L201.56 733.14 L204.86 732.87 L208.16 732.60 L211.47 732.32 L214.78 732.05 L218.08 731.78 L221.39 731.51 L224.69 731.25 L228.00 730.98 L231.30 730.71" stroke="#2FABAE" stroke-width="0.9" fill="none"/>
<polygon points="231.30,730.71 225.68,733.17 225.36,729.18" fill="#00BFC4" stroke="#00BFC4" stroke-width="0.9" stroke-linejoin="miter"/>
<path d="M33.00 748.40 L36.30 748.20 L39.61 748.00 L42.91 747.80 L46.22 747.60 L49.53 747.40 L52.83 747.20 L56.14 747.01 L59.44 746.81 L62.75 746.61 L66.05 746.42 L69.35 746.22 L72.66 746.02 L75.97 745.83 L79.27 745.63 L82.58 745.44 L85.88 745.24 L89.19 745.05 L92.49 744.86 L95.80 744.66 L99.10 744.47 L102.41 744.28 L105.71 744.09 L109.02 743.89 L112.32 743.70 L115.62 743.51 L118.93 743.32 L122.23 743.13 L125.54 742.94 L128.85 742.75 L132.15 742.56 L135.45 742.37 L138.76 742.19 L142.06 742.00 L145.37 741.81 L148.68 741.62 L151.98 741.44 L155.28 741.25 L158.59 741.06 L161.90 740.88 L165.20 740.69 L168.50 740.51 L171.81 740.32 L175.12 740.14 L178.42 739.96 L181.72 739.77 L185.03 739.59 L188.34 739.41 L191.64 739.22 L194.95 739.04 L198.25 738.86 L201.56 738.68 L204.86 738.50 L208.16 738.32 L211.47 738.14 L214.78 737.96 L218.08 737.78 L221.39 737.60 L224.69 737.42 L228.00 737.24 L231.30 737.07" stroke="#BA89DE" stroke-width="0.9" fill="none"/>
<polygon points="231.30,737.07 225.62,739.37 225.40,735.38" fill="#C77CFF" stroke="#C77CFF" stroke-width="0.9" stroke-linejoin="miter"/>
<text x="354.40" y="545.45" text-anchor="middle" font-size="7.55" fill="#1A1A1A" color="#1A1A1A">Alpha Variant</text>
<path d="M275.08 548.91V757.90M314.74 548.91V757.90M354.40 548.91V757.90M394.06 548.91V757.90M433.72 548.91V757.90M245.34 727.29H463.47M245.34 685.07H463.47M245.34 642.85H463.47M245.34 600.63H463.47M245.34 558.41H463.47" stroke="#F3F3F3" stroke-width="0.55" fill="none"/>
<path d="M255.25 548.91V757.90M294.91 548.91V757.90M334.57 548.91V757.90M374.23 548.91V757.90M413.89 548.91V757.90M453.55 548.91V757.90M245.34 748.40H463.47M245.34 706.18H463.47M245.34 663.96H463.47M245.34 621.74H463.47M245.34 579.52H463.47" stroke="#EBEBEB" stroke-width="0.8" fill="none"/>
<text x="255.25" y="766.30" text-anchor="middle" font-size="6.2" fill="#555555" style="stroke:none">0</text>
<text x="294.91" y="766.30" text-anchor="middle" font-size="6.2" fill="#555555" style="stroke:none">10</text>
<text x="334.57" y="766.30" text-anchor="middle" font-size="6.2" fill="#555555" style="stroke:none">20</text>
<text x="374.23" y="766.30" text-anchor="middle" font-size="6.2" fill="#555555" style="stroke:none">30</text>
<text x="413.89" y="766.30" text-anchor="middle" font-size="6.2" fill="#555555" style="stroke:none">40</text>
<text x="453.55" y="766.30" text-anchor="middle" font-size="6.2" fill="#555555" style="stroke:none">50</text>
<path d="M255.25 748.40 L258.56 746.46 L261.86 744.54 L265.17 742.63 L268.47 740.75 L271.77 738.89 L275.08 737.04 L278.38 735.21 L281.69 733.40 L285.00 731.61 L288.30 729.84 L291.61 728.08 L294.91 726.35 L298.22 724.63 L301.52 722.92 L304.82 721.24 L308.13 719.57 L311.44 717.92 L314.74 716.28 L318.05 714.66 L321.35 713.06 L324.65 711.47 L327.96 709.90 L331.26 708.34 L334.57 706.80 L337.88 705.28 L341.18 703.77 L344.49 702.28 L347.79 700.80 L351.10 699.33 L354.40 697.88 L357.70 696.45 L361.01 695.03 L364.31 693.62 L367.62 692.23 L370.93 690.85 L374.23 689.49 L377.53 688.14 L380.84 686.80 L384.14 685.48 L387.45 684.16 L390.75 682.87 L394.06 681.58 L397.37 680.31 L400.67 679.05 L403.98 677.81 L407.28 676.57 L410.59 675.35 L413.89 674.14 L417.20 672.95 L420.50 671.76 L423.81 670.59 L427.11 669.43 L430.41 668.28 L433.72 667.14 L437.02 666.01 L440.33 664.90 L443.63 663.79 L446.94 662.70 L450.25 661.62 L453.55 660.55" stroke="#D8837D" stroke-width="0.9" fill="none"/>
<polygon points="453.55,660.55 448.65,664.24 447.42,660.43" fill="#F8766D" stroke="#F8766D" stroke-width="0.9" stroke-linejoin="miter"/>
<path d="M255.25 748.40 L258.56 747.13 L261.86 745.88 L265.17 744.63 L268.47 743.40 L271.77 742.18 L275.08 740.96 L278.38 739.76 L281.69 738.56 L285.00 737.38 L288.30 736.20 L291.61 735.04 L294.91 733.88 L298.22 732.74 L301.52 731.60 L304.82 730.48 L308.13 729.36 L311.44 728.25 L314.74 727.15 L318.05 726.06 L321.35 724.98 L324.65 723.91 L327.96 722.85 L331.26 721.79 L334.57 720.75 L337.88 719.71 L341.18 718.68 L344.49 717.66 L347.79 716.65 L351.10 715.65 L354.40 714.65 L357.70 713.67 L361.01 712.69 L364.31 711.72 L367.62 710.76 L370.93 709.80 L374.23 708.86 L377.53 707.92 L380.84 706.99 L384.14 706.06 L387.45 705.15 L390.75 704.24 L394.06 703.34 L397.37 702.45 L400.67 701.56 L403.98 700.68 L407.28 699.81 L410.59 698.95 L413.89 698.09 L417.20 697.24 L420.50 696.40 L423.81 695.57 L427.11 694.74 L430.41 693.92 L433.72 693.10 L437.02 692.29 L440.33 691.49 L443.63 690.70 L446.94 689.91 L450.25 689.13 L453.55 688.35" stroke="#81A231" stroke-width="0.9" fill="none"/>
<polygon points="453.55,688.35 448.36,691.62 447.45,687.73" fill="#7CAE00" stroke="#7CAE00" stroke-width="0.9" stroke-linejoin="miter"/>
<path d="M255.25 748.40 L258.56 747.62 L261.86 746.85 L265.17 746.09 L268.47 745.33 L271.77 744.58 L275.08 743.83 L278.38 743.09 L281.69 742.35 L285.00 741.62 L288.30 740.89 L291.61 740.17 L294.91 739.45 L298.22 738.74 L301.52 738.03 L304.82 737.33 L308.13 736.64 L311.44 735.94 L314.74 735.26 L318.05 734.58 L321.35 733.90 L324.65 733.23 L327.96 732.56 L331.26 731.90 L334.57 731.24 L337.88 730.59 L341.18 729.94 L344.49 729.30 L347.79 728.66 L351.10 728.03 L354.40 727.40 L357.70 726.78 L361.01 726.16 L364.31 725.54 L367.62 724.93 L370.93 724.32 L374.23 723.72 L377.53 723.12 L380.84 722.53 L384.14 721.94 L387.45 721.35 L390.75 720.77 L394.06 720.20 L397.37 719.62 L400.67 719.05 L403.98 718.49 L407.28 717.93 L410.59 717.37 L413.89 716.82 L417.20 716.27 L420.50 715.73 L423.81 715.19 L427.11 714.65 L430.41 714.12 L433.72 713.59 L437.02 713.06 L440.33 712.54 L443.63 712.03 L446.94 711.51 L450.25 711.00 L453.55 710.50" stroke="#2FABAE" stroke-width="0.9" fill="none"/>
<polygon points="453.55,710.50 448.12,713.35 447.51,709.40" fill="#00BFC4" stroke="#00BFC4" stroke-width="0.9" stroke-linejoin="miter"/>
<path d="M255.25 748.40 L258.56 747.95 L261.86 747.50 L265.17 747.05 L268.47 746.60 L271.77 746.15 L275.08 745.71 L278.38 745.26 L281.69 744.82 L285.00 744.38 L288.30 743.95 L291.61 743.51 L294.91 743.08 L298.22 742.65 L301.52 742.22 L304.82 741.79 L308.13 741.36 L311.44 740.94 L314.74 740.51 L318.05 740.09 L321.35 739.67 L324.65 739.25 L327.96 738.83 L331.26 738.42 L334.57 738.01 L337.88 737.59 L341.18 737.18 L344.49 736.78 L347.79 736.37 L351.10 735.96 L354.40 735.56 L357.70 735.16 L361.01 734.76 L364.31 734.36 L367.62 733.96 L370.93 733.57 L374.23 733.17 L377.53 732.78 L380.84 732.39 L384.14 732.00 L387.45 731.61 L390.75 731.23 L394.06 730.84 L397.37 730.46 L400.67 730.08 L403.98 729.70 L407.28 729.32 L410.59 728.94 L413.89 728.56 L417.20 728.19 L420.50 727.82 L423.81 727.45 L427.11 727.08 L430.41 726.71 L433.72 726.34 L437.02 725.98 L440.33 725.61 L443.63 725.25 L446.94 724.89 L450.25 724.53 L453.55 724.17" stroke="#BA89DE" stroke-width="0.9" fill="none"/>
<polygon points="453.55,724.17 448.00,726.79 447.57,722.81" fill="#C77CFF" stroke="#C77CFF" stroke-width="0.9" stroke-linejoin="miter"/>
<text x="576.65" y="545.45" text-anchor="middle" font-size="7.55" fill="#1A1A1A" color="#1A1A1A">Delta Variant</text>
<path d="M497.33 548.91V757.90M536.99 548.91V757.90M576.65 548.91V757.90M616.31 548.91V757.90M655.97 548.91V757.90M467.58 727.29H685.72M467.58 685.07H685.72M467.58 642.85H685.72M467.58 600.63H685.72M467.58 558.41H685.72" stroke="#F3F3F3" stroke-width="0.55" fill="none"/>
<path d="M477.50 548.91V757.90M517.16 548.91V757.90M556.82 548.91V757.90M596.48 548.91V757.90M636.14 548.91V757.90M675.80 548.91V757.90M467.58 748.40H685.72M467.58 706.18H685.72M467.58 663.96H685.72M467.58 621.74H685.72M467.58 579.52H685.72" stroke="#EBEBEB" stroke-width="0.8" fill="none"/>
<text x="477.50" y="766.30" text-anchor="middle" font-size="6.2" fill="#555555" style="stroke:none">0</text>
<text x="517.16" y="766.30" text-anchor="middle" font-size="6.2" fill="#555555" style="stroke:none">10</text>
<text x="556.82" y="766.30" text-anchor="middle" font-size="6.2" fill="#555555" style="stroke:none">20</text>
<text x="596.48" y="766.30" text-anchor="middle" font-size="6.2" fill="#555555" style="stroke:none">30</text>
<text x="636.14" y="766.30" text-anchor="middle" font-size="6.2" fill="#555555" style="stroke:none">40</text>
<text x="675.80" y="766.30" text-anchor="middle" font-size="6.2" fill="#555555" style="stroke:none">50</text>
<path d="M477.50 748.40 L479.33 744.26 L481.16 740.17 L482.99 736.11 L484.82 732.09 L486.65 728.11 L488.48 724.17 L490.31 720.26 L492.14 716.39 L493.97 712.56 L495.80 708.76 L497.63 705.00 L499.46 701.28 L501.29 697.59 L503.12 693.93 L504.95 690.31 L506.78 686.73 L508.61 683.18 L510.44 679.66 L512.28 676.17 L514.11 672.72 L515.94 669.30 L517.77 665.91 L519.60 662.56 L521.43 659.24 L523.26 655.94 L525.09 652.68 L526.92 649.45 L528.75 646.25 L530.58 643.09 L532.41 639.95 L534.24 636.84 L536.07 633.76 L537.90 630.71 L539.73 627.69 L541.56 624.69 L543.39 621.73 L545.22 618.79 L547.05 615.88 L548.88 613.00 L550.71 610.15 L552.54 607.32 L554.37 604.52 L556.20 601.75 L558.03 599.00 L559.86 596.28 L561.69 593.58 L563.52 590.91 L565.35 588.26 L567.18 585.64 L569.01 583.05 L570.84 580.48 L572.67 577.93 L574.50 575.41 L576.33 572.91 L578.17 570.44 L580.00 567.99 L581.83 565.56 L583.66 563.15 L585.49 560.77 L587.32 558.41" stroke="#D8837D" stroke-width="0.9" fill="none"/>
<polygon points="587.32,558.41 585.34,564.22 582.18,561.77" fill="#F8766D" stroke="#F8766D" stroke-width="0.9" stroke-linejoin="miter"/>
<path d="M477.50 748.40 L480.81 743.81 L484.11 739.29 L487.42 734.84 L490.72 730.45 L494.02 726.12 L497.33 721.85 L500.63 717.65 L503.94 713.50 L507.25 709.42 L510.55 705.39 L513.86 701.43 L517.16 697.52 L520.47 693.66 L523.77 689.86 L527.08 686.12 L530.38 682.43 L533.68 678.79 L536.99 675.21 L540.29 671.67 L543.60 668.19 L546.90 664.76 L550.21 661.37 L553.51 658.04 L556.82 654.75 L560.12 651.51 L563.43 648.32 L566.74 645.18 L570.04 642.07 L573.35 639.02 L576.65 636.00 L579.96 633.03 L583.26 630.11 L586.57 627.22 L589.87 624.38 L593.17 621.58 L596.48 618.82 L599.78 616.09 L603.09 613.41 L606.39 610.77 L609.70 608.16 L613.00 605.59 L616.31 603.06 L619.62 600.56 L622.92 598.10 L626.23 595.68 L629.53 593.29 L632.84 590.94 L636.14 588.62 L639.45 586.33 L642.75 584.07 L646.06 581.85 L649.36 579.66 L652.66 577.50 L655.97 575.37 L659.27 573.28 L662.58 571.21 L665.88 569.17 L669.19 567.16 L672.50 565.18 L675.80 563.23" stroke="#81A231" stroke-width="0.9" fill="none"/>
<polygon points="675.80,563.23 671.82,567.90 669.79,564.46" fill="#7CAE00" stroke="#7CAE00" stroke-width="0.9" stroke-linejoin="miter"/>
<path d="M477.50 748.40 L480.81 745.86 L484.11 743.36 L487.42 740.88 L490.72 738.42 L494.02 736.00 L497.33 733.60 L500.63 731.22 L503.94 728.87 L507.25 726.55 L510.55 724.26 L513.86 721.98 L517.16 719.74 L520.47 717.52 L523.77 715.32 L527.08 713.15 L530.38 711.00 L533.68 708.87 L536.99 706.77 L540.29 704.69 L543.60 702.63 L546.90 700.60 L550.21 698.59 L553.51 696.60 L556.82 694.63 L560.12 692.69 L563.43 690.76 L566.74 688.86 L570.04 686.97 L573.35 685.11 L576.65 683.27 L579.96 681.45 L583.26 679.65 L586.57 677.87 L589.87 676.10 L593.17 674.36 L596.48 672.64 L599.78 670.93 L603.09 669.25 L606.39 667.58 L609.70 665.93 L613.00 664.30 L616.31 662.69 L619.62 661.09 L622.92 659.51 L626.23 657.95 L629.53 656.41 L632.84 654.88 L636.14 653.37 L639.45 651.88 L642.75 650.40 L646.06 648.94 L649.36 647.50 L652.66 646.07 L655.97 644.65 L659.27 643.26 L662.58 641.87 L665.88 640.51 L669.19 639.15 L672.50 637.82 L675.80 636.49" stroke="#2FABAE" stroke-width="0.9" fill="none"/>
<polygon points="675.80,636.49 671.16,640.51 669.67,636.79" fill="#00BFC4" stroke="#00BFC4" stroke-width="0.9" stroke-linejoin="miter"/>
<path d="M477.50 748.40 L480.81 746.91 L484.11 745.43 L487.42 743.97 L490.72 742.52 L494.02 741.09 L497.33 739.67 L500.63 738.26 L503.94 736.87 L507.25 735.48 L510.55 734.12 L513.86 732.76 L517.16 731.42 L520.47 730.08 L523.77 728.77 L527.08 727.46 L530.38 726.17 L533.68 724.88 L536.99 723.62 L540.29 722.36 L543.60 721.11 L546.90 719.88 L550.21 718.65 L553.51 717.44 L556.82 716.24 L560.12 715.05 L563.43 713.88 L566.74 712.71 L570.04 711.55 L573.35 710.41 L576.65 709.27 L579.96 708.15 L583.26 707.04 L586.57 705.93 L589.87 704.84 L593.17 703.76 L596.48 702.69 L599.78 701.62 L603.09 700.57 L606.39 699.53 L609.70 698.50 L613.00 697.47 L616.31 696.46 L619.62 695.46 L622.92 694.46 L626.23 693.48 L629.53 692.50 L632.84 691.53 L636.14 690.58 L639.45 689.63 L642.75 688.69 L646.06 687.76 L649.36 686.83 L652.66 685.92 L655.97 685.01 L659.27 684.12 L662.58 683.23 L665.88 682.35 L669.19 681.48 L672.50 680.61 L675.80 679.76" stroke="#BA89DE" stroke-width="0.9" fill="none"/>
<polygon points="675.80,679.76 670.69,683.15 669.68,679.27" fill="#C77CFF" stroke="#C77CFF" stroke-width="0.9" stroke-linejoin="miter"/>
<text x="692.8" y="367.7" font-size="7.65" fill="#000" color="#000">Student Vaccination Rate</text>
<path d="M693.8 378.00H703.7" stroke="#D8837D" stroke-width="0.9"/>
<polygon points="703.70,378.00 697.90,380.00 697.90,376.00" fill="#F8766D" stroke="#F8766D" stroke-width="0.9" stroke-linejoin="miter"/>
<text x="708.0" y="380.20" font-size="6.0" fill="#000" color="#000">0%</text>
<path d="M693.8 389.70H703.7" stroke="#81A231" stroke-width="0.9"/>
<polygon points="703.70,389.70 697.90,391.70 697.90,387.70" fill="#7CAE00" stroke="#7CAE00" stroke-width="0.9" stroke-linejoin="miter"/>
<text x="708.0" y="391.90" font-size="6.0" fill="#000" color="#000">25%</text>
<path d="M693.8 401.40H703.7" stroke="#2FABAE" stroke-width="0.9"/>
<polygon points="703.70,401.40 697.90,403.40 697.90,399.40" fill="#00BFC4" stroke="#00BFC4" stroke-width="0.9" stroke-linejoin="miter"/>
<text x="708.0" y="403.60" font-size="6.0" fill="#000" color="#000">50%</text>
<path d="M693.8 413.10H703.7" stroke="#BA89DE" stroke-width="0.9"/>
<polygon points="703.70,413.10 697.90,415.10 697.90,411.10" fill="#C77CFF" stroke="#C77CFF" stroke-width="0.9" stroke-linejoin="miter"/>
<text x="708.0" y="415.30" font-size="6.0" fill="#000" color="#000">70%</text>
</svg></body></html>
